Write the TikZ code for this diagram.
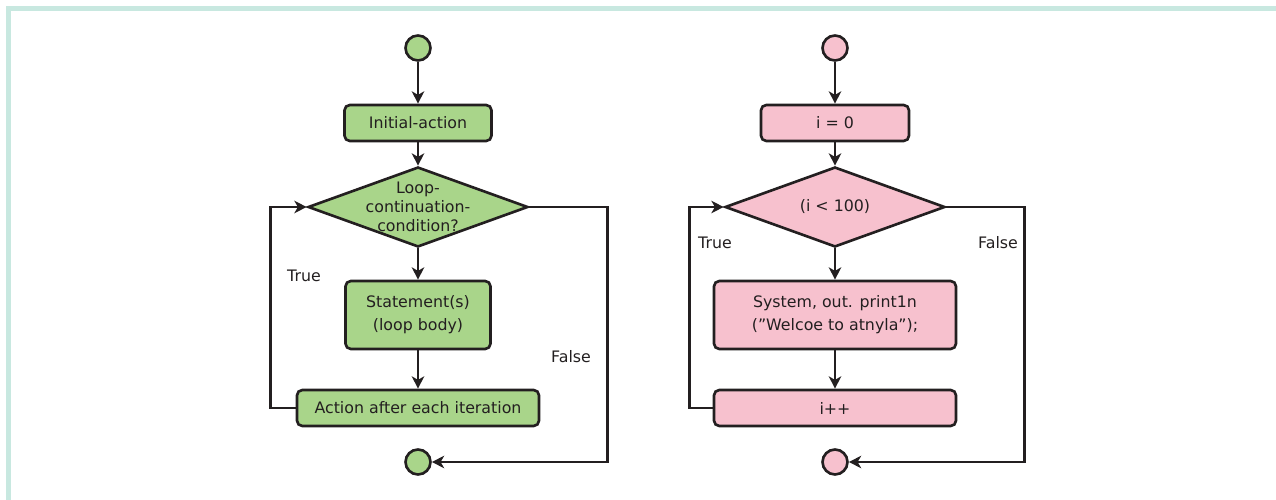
\documentclass[tikz,border=0pt]{standalone}
\usepackage{fontspec}
\setmainfont{DejaVu Sans}
\usetikzlibrary{shapes.geometric,arrows.meta}
\definecolor{framecol}{HTML}{C8E8E0}
\definecolor{greenfill}{HTML}{A9D58A}
\definecolor{pinkfill}{HTML}{F7C1CE}
\definecolor{inkcol}{HTML}{231F20}
\begin{document}
\begin{tikzpicture}[
			x=0.02cm, y=-0.02cm,
			every node/.style={font=\fontsize{9}{11}\selectfont, text=inkcol},
			startend/.style={circle, draw=inkcol, line width=1.5pt, minimum size=0.5cm, inner sep=0pt},
			actbox/.style={rectangle, rounded corners=3pt, draw=inkcol, line width=1.5pt, align=center},
			decision/.style={diamond, draw=inkcol, line width=1.5pt, inner sep=0pt, minimum width=4.4cm, minimum height=1.6cm},
			flow/.style={draw=inkcol, line width=1.5pt, -{Stealth[length=7pt,width=7pt,inset=2pt]}},
			lbl/.style={inner sep=0pt}
		]
		\useasboundingbox (0,0) rectangle (1276,500);
		\fill[framecol] (6,6) rectangle (1276,11);
		\fill[framecol] (6,6) rectangle (11,500);

		% left chart
		\node[startend, fill=greenfill] (s1) at (418,48) {};
		\node[actbox, fill=greenfill, minimum width=2.94cm, minimum height=0.72cm] (init1) at (418,123) {Initial-action};
		\node[decision, fill=greenfill, label={[align=center, inner sep=0pt]center:Loop-\\continuation-\\condition?}] (dec1) at (418,207) {};
		\node[actbox, fill=greenfill, minimum width=2.9cm, minimum height=1.36cm] (body1) at (418,315) {Statement(s)\\[2pt](loop body)};
		\node[actbox, fill=greenfill, minimum width=4.84cm, minimum height=0.72cm] (act1) at (418,408) {Action after each iteration};
		\node[startend, fill=greenfill] (e1) at (418,462) {};
		\node[lbl] (t1) at (304,276) {True};
		\node[lbl] (f1) at (571,357) {False};

		\draw[flow] (s1) -- (init1);
		\draw[flow] (init1) -- (dec1);
		\draw[flow] (dec1) -- (body1);
		\draw[flow] (body1) -- (act1);
		\draw[flow] (act1.west) -- ++(-25,0) |- (dec1.west);
		\draw[flow] (dec1.east) -- ++(78,0) |- (e1);

		% right chart
		\node[startend, fill=pinkfill] (s2) at (835,48) {};
		\node[actbox, fill=pinkfill, minimum width=2.96cm, minimum height=0.72cm] (init2) at (835,123) {i = 0};
		\node[decision, fill=pinkfill, label={[inner sep=0pt]center:(i < 100)}] (dec2) at (835,207) {};
		\node[actbox, fill=pinkfill, minimum width=4.84cm, minimum height=1.36cm] (body2) at (835,315) {System, out. print1n\\[2pt](”Welcoe to atnyla”);};
		\node[actbox, fill=pinkfill, minimum width=4.84cm, minimum height=0.72cm] (act2) at (835,408) {i++};
		\node[startend, fill=pinkfill] (e2) at (835,462) {};
		\node[lbl] (t2) at (715,243) {True};
		\node[lbl] (f2) at (998,243) {False};

		\draw[flow] (s2) -- (init2);
		\draw[flow] (init2) -- (dec2);
		\draw[flow] (dec2) -- (body2);
		\draw[flow] (body2) -- (act2);
		\draw[flow] (act2.west) -- ++(-23,0) |- (dec2.west);
		\draw[flow] (dec2.east) -- ++(78,0) |- (e2);
	\end{tikzpicture}
\end{document}
